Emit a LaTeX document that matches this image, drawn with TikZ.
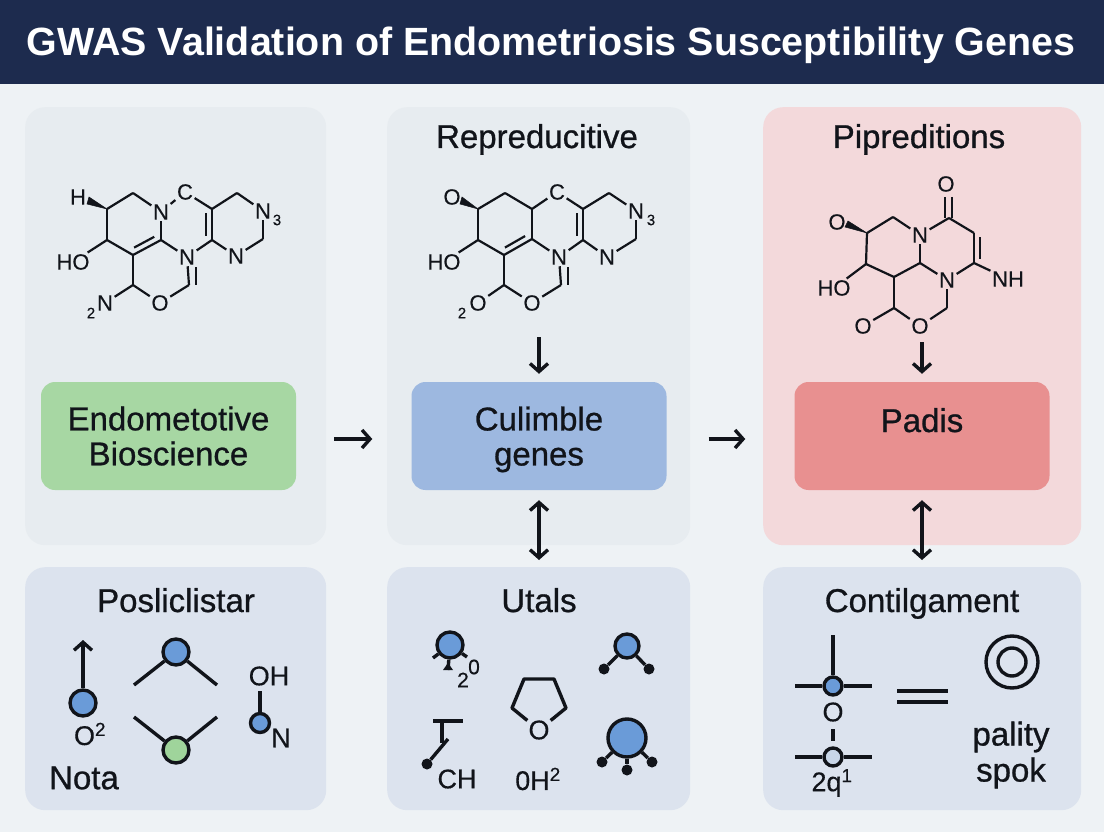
\documentclass[tikz,border=0pt]{standalone}
\usepackage{fontspec}
\setmainfont{Liberation Sans}
\newfontfamily\medfont[FakeBold=0.8]{Liberation Sans}
\newfontfamily\atomfont[FakeBold=0.35]{Liberation Sans}
\usepackage{xcolor}
\usepackage{tikz}
\usetikzlibrary{arrows.meta,calc}
\definecolor{gwasnavy}{RGB}{29,43,78}
\definecolor{gwaspage}{RGB}{238,242,245}
\definecolor{gwaspanel}{RGB}{231,236,240}
\definecolor{gwaspink}{RGB}{243,217,219}
\definecolor{gwaslower}{RGB}{220,227,238}
\definecolor{gwasgreen}{RGB}{167,215,163}
\definecolor{gwasblue}{RGB}{157,184,224}
\definecolor{gwasred}{RGB}{232,144,144}
\definecolor{gwasdot}{RGB}{106,155,216}
\definecolor{gwasleaf}{RGB}{159,212,155}
\definecolor{gwaspale}{RGB}{200,214,232}
\definecolor{gwasink}{RGB}{17,20,26}
% inner line of a double bond: from, to, side
\newcommand{\innerbond}[3]{\draw[bond] ($(#1)!0.14!(#2)!6pt!#3:(#2)$) -- ($(#2)!0.14!(#1)!6pt!-#3:(#1)$);}

\begin{document}
\begin{tikzpicture}[
    x=1pt, y=-1pt,
    panel/.style={draw=none, rounded corners=20pt, fill=#1, anchor=north west, inner sep=0pt},
    labelbox/.style={rounded corners=14pt, fill=#1, minimum width=255pt, minimum height=108pt, inner sep=0pt,
        font=\medfont\fontsize{33}{35}\selectfont, align=center, text=gwasink},
    heading/.style={font=\medfont\fontsize{33}{36}\selectfont, text=gwasink, inner sep=0pt, anchor=base},
    atom/.style={font=\atomfont\fontsize{22}{22}\selectfont, text=gwasink, inner sep=1.5pt},
    sub/.style={font=\atomfont\fontsize{15}{15}\selectfont, text=gwasink, inner sep=0pt},
    glyph/.style={font=\atomfont\fontsize{27}{30}\selectfont, text=gwasink, inner sep=1pt},
    bond/.style={draw=gwasink, line width=2.2pt},
    wedge/.style={fill=gwasink, draw=gwasink, line width=.5pt},
    stroke/.style={draw=gwasink, line width=3.4pt},
    ball/.style={circle, draw=gwasink, line width=3.4pt, fill=#1, inner sep=0pt},
    tip/.style={circle, fill=gwasink, minimum size=11pt, inner sep=0pt},
    arrow/.style={-{Straight Barb[length=8pt,width=18pt,line width=3.4pt]}, draw=gwasink, line width=3.4pt},
    both/.style={{Straight Barb[length=8pt,width=18pt,line width=3.4pt]}-{Straight Barb[length=8pt,width=18pt,line width=3.4pt]}, draw=gwasink, line width=3.4pt}
]
\useasboundingbox (0,0) rectangle (1104,832);
\fill[gwaspage] (0,0) rectangle (1104,832);

% Header
\fill[gwasnavy] (0,0) rectangle (1104,84);
\node[font=\bfseries\fontsize{39.4}{42}\selectfont, text=white, inner sep=0pt] (title) at (551,45) {GWAS Validation of Endometriosis Susceptibility Genes};

% Upper panels
\node[panel=gwaspanel, minimum width=301pt, minimum height=438pt] (bio) at (25,107) {};
\node[panel=gwaspanel, minimum width=303pt, minimum height=438pt] (rep) at (387,107) {};
\node[panel=gwaspink, minimum width=318pt, minimum height=438pt] (pip) at (763,107) {};
\node[heading] (rephead) at (537,148) {Repreducitive};
\node[heading] (piphead) at (919,148) {Pipreditions};

% Lower panels
\node[panel=gwaslower, minimum width=301pt, minimum height=243pt] (pos) at (25,567) {};
\node[panel=gwaslower, minimum width=303pt, minimum height=243pt] (uta) at (387,567) {};
\node[panel=gwaslower, minimum width=318pt, minimum height=243pt] (con) at (763,567) {};
\node[heading] (poshead) at (176,612) {Posliclistar};
\node[heading] (utahead) at (539,612) {Utals};
\node[heading] (conhead) at (922,612) {Contilgament};

% Label boxes
\node[labelbox=gwasgreen] (endo) at (168.5,436) {Endometotive\\Bioscience};
\node[labelbox=gwasblue] (culi) at (539,436) {Culimble\\\raisebox{0pt}[\height][0pt]{genes}};
\node[labelbox=gwasred] (padis) at (922,436) {\raisebox{4pt}[0pt][0pt]{Padis}};

% Molecule in the first panel
\foreach \name/\x/\y in {a1/107/209, a2/133/193, a3/212/209, a4/237/193, a5/263/239, a6/212/240, a7/161/240, a8/133/255, a9/107/240, a10/133/285, a11/189/285}
    \coordinate (\name) at (\x,\y);
\foreach \name/\x/\y/\txt in {ah/78/197/H, an1/161/212/N, ac/185/192/C, an3/263/211/N, an4/236/256/N, an5/187/257/N, aho/73/262/HO, ao/160/303/O, an2/105/303/N}
    \node[atom] (\name) at (\x,\y) {\txt};
\node[sub] (a3sub) at (277,220) {3};
\node[sub] (a2sub) at (91,313) {2};
\fill[wedge] (a1) -- (89,197) -- (87,204) -- cycle;
\foreach \s/\t in {a1/a2, a2/an1, an1/ac, ac/a3, a3/a4, a4/an3, an3/a5, a5/an4, an4/a6, a6/an5, an5/a7, a7/a8, a8/a9, a9/a1, an1/a7, a3/a6, a9/aho, a8/a10, a10/ao, a10/an2, ao/a11, an5/a11}
    \draw[bond] (\s) -- (\t);
\innerbond{a3}{a6}{-90}
\innerbond{a7}{a8}{-90}
\draw[bond] (196,267) -- (196,285);

% Molecule in the second panel
\foreach \name/\x/\y in {b1/478/209, b2/505/193, b3/532/209, b4/583/209, b5/609/193, b6/636/239, b7/583/240, b8/532/239, b9/504/255, b10/478/240, b11/504/285, b12/561/285}
    \coordinate (\name) at (\x,\y);
\foreach \name/\x/\y/\txt in {bo1/452/197/O, bc/557/192/C, bn3/636/211/N, bn4/607/257/N, bn5/559/257/N, bho/444/262/HO, bo/532/303/O, bo2/478/303/O}
    \node[atom] (\name) at (\x,\y) {\txt};
\node[sub] (b3sub) at (651,220) {3};
\node[sub] (b2sub) at (462,313) {2};
\fill[wedge] (b1) -- (462,197) -- (460,204) -- cycle;
\foreach \s/\t in {b1/b2, b2/b3, b3/bc, bc/b4, b4/b5, b5/bn3, bn3/b6, b6/bn4, bn4/b7, b7/bn5, bn5/b8, b8/b9, b9/b10, b10/b1, b3/b8, b4/b7, b10/bho, b9/b11, b11/bo, b11/bo2, bo/b12, bn5/b12}
    \draw[bond] (\s) -- (\t);
\innerbond{b4}{b7}{-90}
\innerbond{b8}{b9}{-90}
\draw[bond] (568,267) -- (568,285);

% Molecule in the third panel
\foreach \name/\x/\y in {c1/867/233, c2/893/217, c3/949/218, c4/974/233, c5/974/263, c6/920/263, c7/894/277, c8/866/264, c9/894/308, c10/947/308}
    \coordinate (\name) at (\x,\y);
\foreach \name/\x/\y/\txt in {co1/837/222/O, cn1/920/235/N, cot/946/184/O, cnh/1008/279/NH, cn2/947/280/N, cho/834/288/HO, co2/863/326/O, co3/920/326/O}
    \node[atom] (\name) at (\x,\y) {\txt};
\fill[wedge] (c1) -- (848,221) -- (845,227) -- cycle;
\foreach \s/\t in {c1/c2, c2/cn1, cn1/c3, c3/c4, c4/c5, c5/cn2, c5/cnh, cn2/c6, c6/cn1, c6/c7, c7/c8, c8/c1, c8/cho, c7/c9, c9/co2, c9/co3, co3/c10, c10/cn2}
    \draw[bond] (\s) -- (\t);
\innerbond{c4}{c5}{90}
\draw[bond] (945,197) -- (945,218);
\draw[bond] (952,197) -- (952,218);

% Arrows
\coordinate (repin) at (539,337);
\coordinate (pipin) at (922,342);
\draw[arrow, shorten <=38pt, shorten >=39pt] ([yshift=-3pt]endo.east) -- ([yshift=-3pt]culi.west);
\draw[arrow, shorten <=42pt, shorten >=49pt] ([yshift=-3pt]culi.east) -- ([yshift=-3pt]padis.west);
\draw[arrow, shorten >=8pt] (repin) -- (culi);
\draw[arrow, shorten >=8pt] (pipin) -- (padis);
\draw[both, shorten <=10pt, shorten >=7pt] (culi) -- (uta.north -| culi);
\draw[both, shorten <=10pt, shorten >=7pt] (padis) -- (con.north -| padis);

% First lower panel
\node[ball=gwasdot, minimum size=26pt] (p1) at (83,703) {};
\coordinate (p1up) at (83,640);
\draw[arrow] (p1) -- (p1up);
\node[glyph] (p1o) at (90,734) {O\textsuperscript{2}};
\node[ball=gwasdot, minimum size=26pt] (p2) at (176,652) {};
\coordinate (p2l) at (134,685);
\coordinate (p2r) at (217,685);
\draw[stroke] (p2) -- (p2l);
\draw[stroke] (p2) -- (p2r);
\node[ball=gwasleaf, minimum size=26pt] (p3) at (176,750) {};
\coordinate (p3l) at (134,717);
\coordinate (p3r) at (217,717);
\draw[stroke] (p3) -- (p3l);
\draw[stroke] (p3) -- (p3r);
\node[glyph] (p4oh) at (269,676) {OH};
\node[ball=gwasdot, minimum size=19pt] (p4) at (260,723) {};
\coordinate (p4up) at (260,691);
\draw[stroke] (p4) -- (p4up);
\node[glyph] (p4n) at (281,738) {N};
\node[glyph, font=\medfont\fontsize{33}{36}\selectfont] (nota) at (84,778) {Nota};

% Second lower panel
\node[ball=gwasdot, minimum size=26pt] (u1) at (450,645) {};
\coordinate (u1a) at (433,658);
\coordinate (u1b) at (467,657);
\coordinate (u1c) at (448,670);
\draw[stroke] (u1) -- (u1a);
\draw[stroke] (u1) -- (u1b);
\draw[stroke] (u1) -- (u1c);
\fill[gwasink] (448,663) -- (443,670) -- (453,670) -- cycle;
\node[glyph, font=\atomfont\fontsize{21}{21}\selectfont] (u1s) at (463,680) {2};
\node[glyph, font=\atomfont\fontsize{21}{21}\selectfont] (u1t) at (474,667) {0};
\node[ball=gwasdot, minimum size=24pt] (u2) at (627,646) {};
\node[tip] (u2a) at (604,669) {};
\node[tip] (u2b) at (649,669) {};
\draw[stroke] (u2) -- (u2a);
\draw[stroke] (u2) -- (u2b);
\node[glyph] (u3o) at (539,730) {O};
\foreach \name/\x/\y in {u3a/524/679, u3b/554/679, u3c/566/708, u3d/512/708}
    \coordinate (\name) at (\x,\y);
\draw[stroke, line join=round] (u3o) -- (u3d) -- (u3a) -- (u3b) -- (u3c) -- (u3o);
\coordinate (u4a) at (433,721);
\coordinate (u4b) at (463,721);
\coordinate (u4c) at (442,721);
\coordinate (u4f) at (442,743);
\coordinate (u4d) at (448,739);
\node[tip] (u4e) at (427,764) {};
\draw[stroke] (u4a) -- (u4b);
\draw[stroke] (u4c) -- (u4f);
\draw[stroke] (u4d) -- (u4e);
\node[glyph] (u4t) at (457,779) {CH};
\node[glyph] (u3t) at (538,779) {0H\textsuperscript{2}};
\node[ball=gwasdot, minimum size=38pt] (u5) at (627,738) {};
\node[tip] (u5a) at (602,762) {};
\node[tip] (u5b) at (627,770) {};
\node[tip] (u5c) at (652,762) {};
\foreach \t in {u5a,u5b,u5c}
    \draw[stroke] (u5) -- (\t);

% Third lower panel
\node[ball=gwasdot, minimum size=18pt] (k1) at (833,686) {};
\coordinate (k1up) at (833,635);
\coordinate (k1l) at (795,686);
\coordinate (k1r) at (872,686);
\draw[stroke] (k1) -- (k1up);
\draw[stroke] (k1) -- (k1l);
\draw[stroke] (k1) -- (k1r);
\node[glyph] (k1o) at (833,712) {O};
\coordinate (k2up) at (833,729);
\coordinate (k2dn) at (833,741);
\draw[stroke] (k2up) -- (k2dn);
\node[ball=gwaspale, minimum size=18pt] (k2) at (833,757) {};
\coordinate (k2l) at (795,757);
\coordinate (k2r) at (872,757);
\draw[stroke] (k2) -- (k2l);
\draw[stroke] (k2) -- (k2r);
\node[glyph] (k2t) at (832,783) {2q\textsuperscript{1}};
\coordinate (k3a) at (897,691);
\coordinate (k3b) at (948,691);
\coordinate (k3c) at (897,702);
\coordinate (k3d) at (948,702);
\draw[stroke] (k3a) -- (k3b);
\draw[stroke] (k3c) -- (k3d);
\node[ball=none, minimum size=52pt] (k4) at (1012,662) {};
\node[ball=none, minimum size=28pt] (k5) at (1012,662) {};
\node[glyph, font=\medfont\fontsize{33}{36}\selectfont, align=center] (k6) at (1011,755) {pality\\spok};

\end{tikzpicture}
\end{document}
